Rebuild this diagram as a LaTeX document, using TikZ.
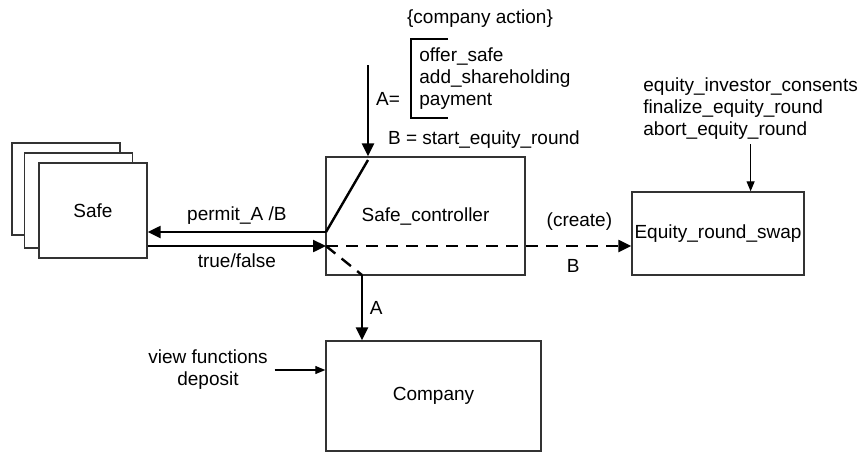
\documentclass[tikz,border=0pt]{standalone}
\usepackage{fontspec}
\setmainfont{Liberation Sans}
\usetikzlibrary{arrows.meta,positioning}

\begin{document}
\begin{tikzpicture}[x=0.5pt,y=-0.5pt,>={Triangle[length=6.5pt,width=6pt]},
    font=\fontsize{9.5}{11}\selectfont,
    box/.style={rectangle,draw=black!80,line width=0.7pt,fill=white,inner sep=0pt,align=center},
    wire/.style={line width=1.2pt},
    thin/.style={line width=0.6pt,-{Triangle[length=5pt,width=4pt]}},
    lbl/.style={inner sep=2pt,align=left},
    brk/.style={dash pattern=on 6pt off 4pt},
  ]
  \useasboundingbox (0,0) rectangle (867,452);
  \node[box,minimum width=54pt,minimum height=46pt]    (safe3) at (66,189) {};
  \node[box,minimum width=54pt,minimum height=47.5pt]  (safe2) at (78.5,200.5) {};
  \node[box,minimum width=54pt,minimum height=47.5pt]  (safe)  at (93,210.5) {Safe};
  \node[box,minimum width=99.5pt,minimum height=59pt]  (ctrl)  at (425.5,216) {Safe\_controller};
  \node[box,minimum width=107.5pt,minimum height=55pt] (comp)  at (433.5,396) {Company};
  \node[box,minimum width=86pt,minimum height=41.5pt]  (eq)    at (718,233.5) {Equity\_round\_swap};

  \node (title) at (480,19) {\{company action\}};
  \node[lbl,anchor=west] (actions) at (415,79) {offer\_safe\\add\_shareholding\\payment};
  \node (aeq) at (388,99) {A=};
  \node[anchor=west] (beq) at (381,140) {B = start\_equity\_round};
  \node[lbl,anchor=west] (eqlist) at (639,109) {equity\_investor\_consents\\finalize\_equity\_round\\abort\_equity\_round};
  \node[align=center] (viewfn) at (208,370) {view functions\\deposit};

  \coordinate (feed)  at (368,65);
  \coordinate (blade) at (368,160);
  \coordinate (pivot) at (326,232);
  \coordinate (join)  at (326,246);
  \coordinate (tap)   at (362,275);

  \draw[wire] (448,39) -- (411,39) -- (411,118) -- (448,118);
  \draw[wire,->] (feed) -- (feed |- ctrl.north);
  \draw[wire] (pivot) -- (blade);
  \draw[wire,->] (pivot) -- (pivot -| safe.east) node[midway,above] {permit\_A /B};
  \draw[wire,->] (join -| safe.east) -- (join) node[midway,below] {true/false};
  \draw[wire,brk,->] (join) -- (join -| eq.west) node[pos=.83,above=4pt] {(create)} node[pos=.81,below=3pt] {B};
  \draw[wire,brk] (join) -- (tap);
  \draw[wire,->] (tap) -- (tap |- comp.north) node[midway,right] {A};
  \draw[thin] (eqlist.south) -- (eqlist.south |- eq.north);
  \draw[thin] (viewfn.east) -- (viewfn.east -| comp.west);
\end{tikzpicture}
\end{document}
